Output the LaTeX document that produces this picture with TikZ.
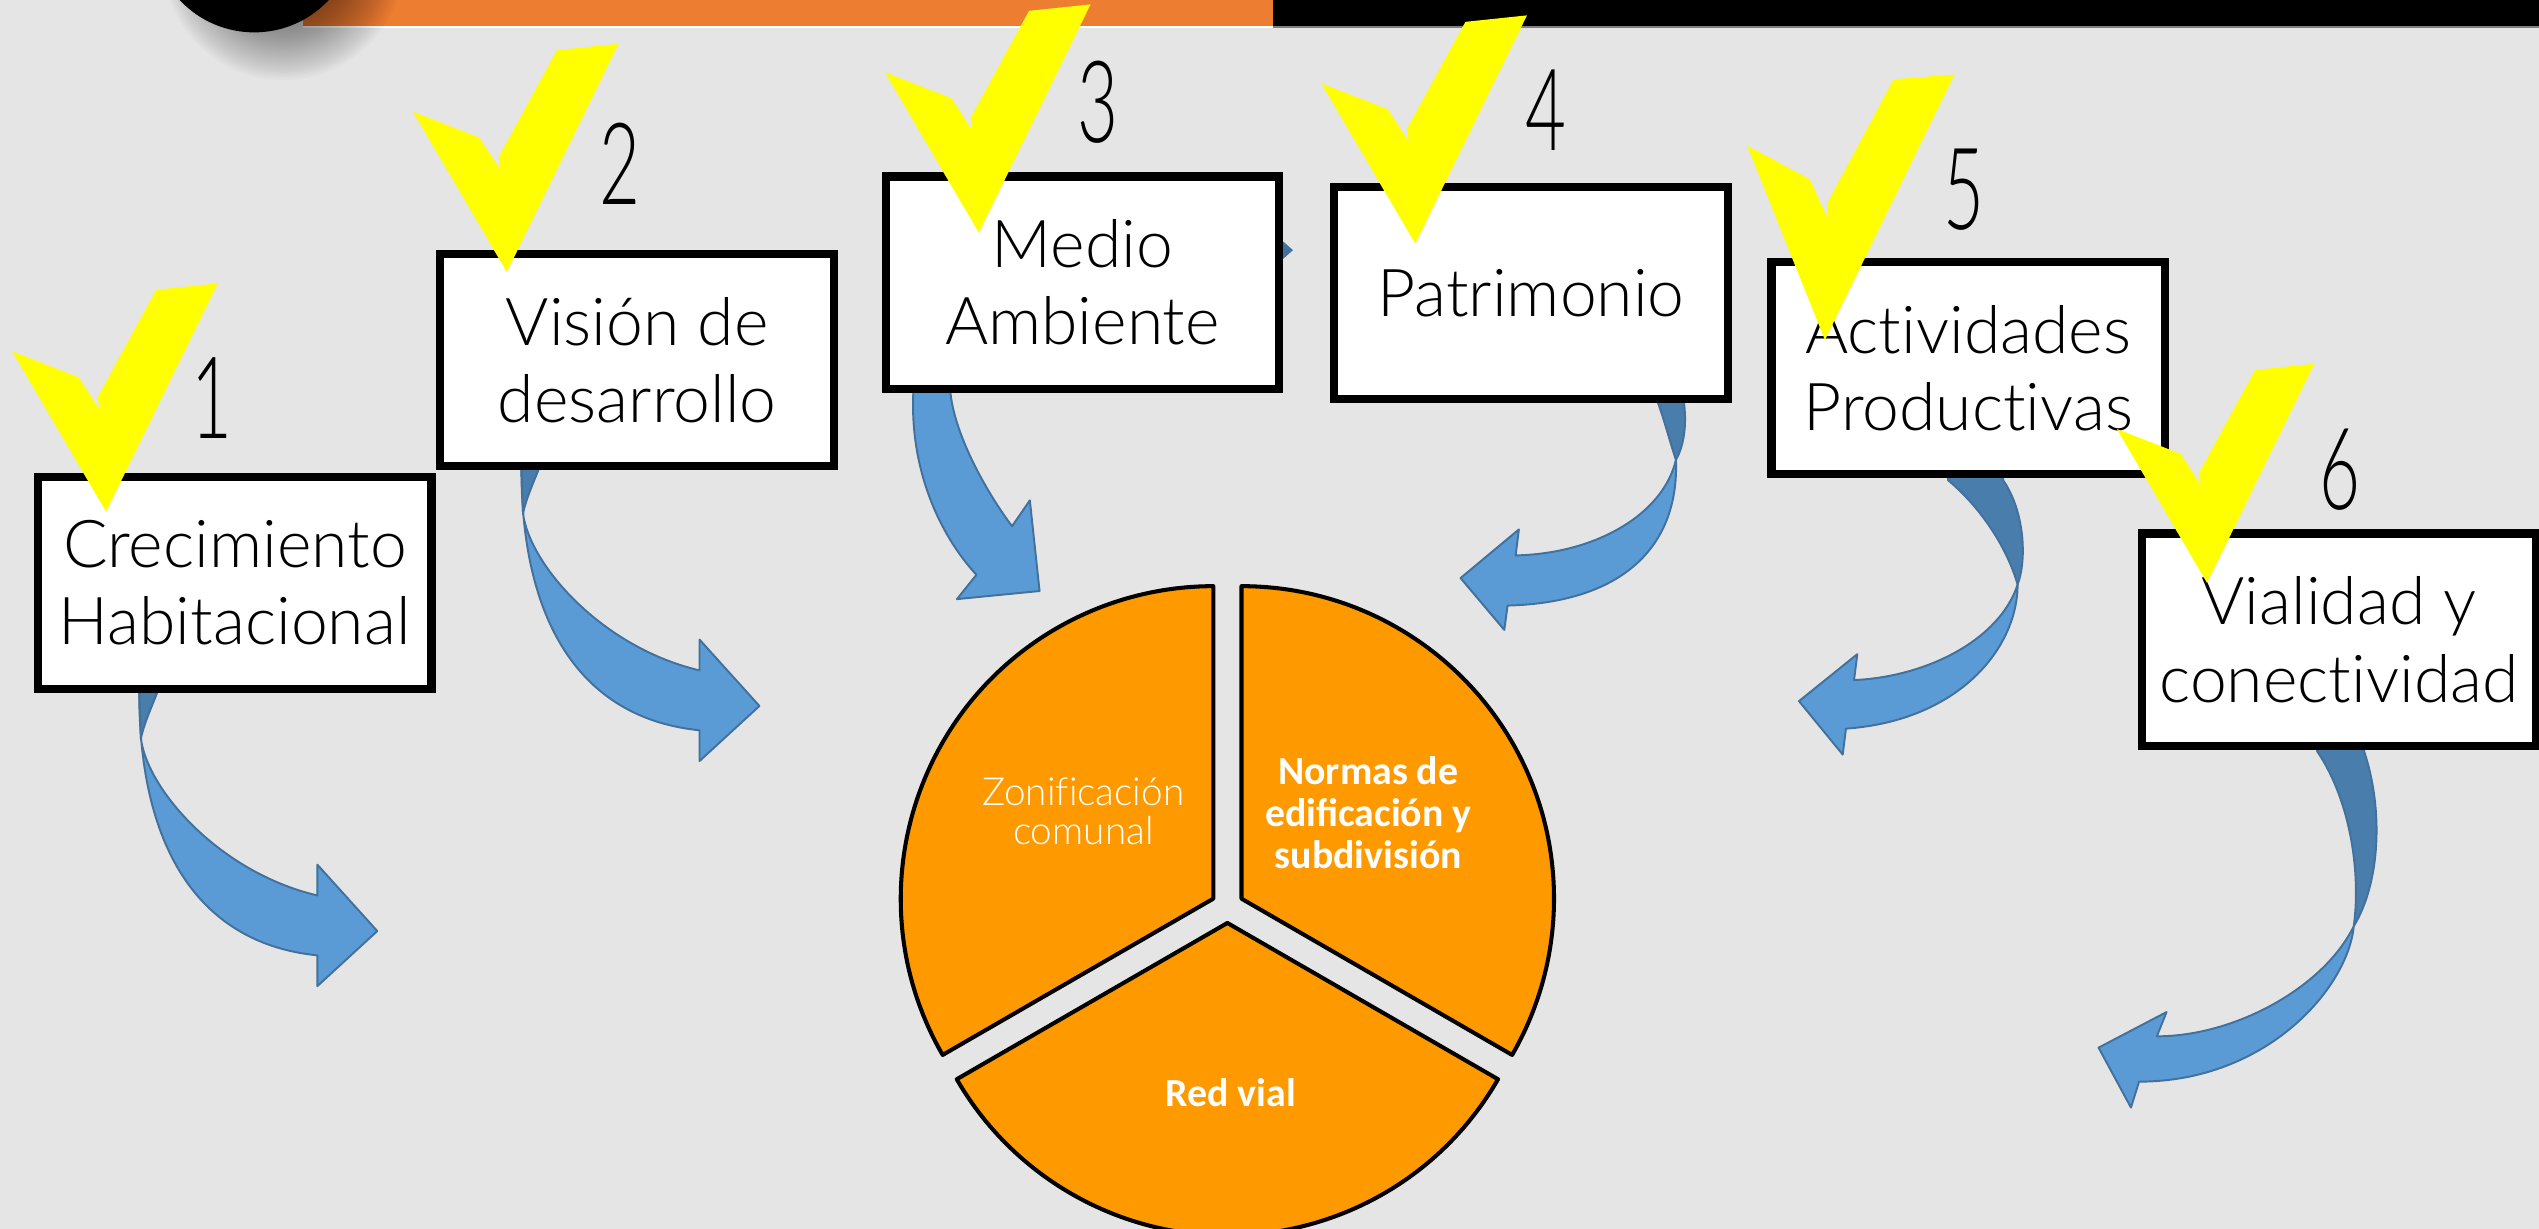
\documentclass[tikz,border=0pt]{standalone}
\usepackage{fontspec}
\IfFontExistsTF{Lato Light}{\newfontfamily\lightfont{Lato Light}[Ligatures=NoCommon]}{\newfontfamily\lightfont{Lato}[Ligatures=NoCommon]}
\newfontfamily\piefont{Carlito}
\definecolor{bg}{RGB}{229,229,229}
\definecolor{barorange}{RGB}{237,125,49}
\definecolor{pieorange}{RGB}{255,153,0}
\definecolor{arrowblue}{RGB}{91,155,213}
\definecolor{arrowedge}{RGB}{65,113,156}
\definecolor{arrowdark}{RGB}{72,125,172}
\definecolor{tickyellow}{RGB}{255,255,0}
\tikzset{
  box/.style={draw=black, line width=0.5mm, fill=white, minimum width=24.3mm,
    minimum height=13.1mm, inner sep=0pt, align=center,
    font=\lightfont\fontsize{11.6}{13.6}\selectfont},
  num/.style={inner sep=0pt, font=\lightfont\fontsize{20}{20}\selectfont},
  arrowfront/.style={fill=arrowblue, draw=arrowedge, line width=0.12mm, line join=round},
  arrowback/.style={fill=arrowdark, draw=arrowedge, line width=0.12mm, line join=round},
  piesec/.style={fill=pieorange, draw=black, line width=0.25mm, line join=round},
  pielight/.style={text=white, align=center, inner sep=0pt, font=\lightfont\fontsize{6.8}{7}\selectfont},
  piebold/.style={text=white, align=center, inner sep=0pt, font=\piefont\bfseries\fontsize{7}{7.4}\selectfont},
  yellowtick/.pic={
    \fill[tickyellow] (0,0) -- (-58,-99) -- (-17,-83) -- (-4,-63) -- (-5,-71)
      -- (31,-137) -- (69,-141) -- cycle;
  },
  bendright/.pic={
    \filldraw[arrowfront] (0,-5) -- (0,0) .. controls (0,100) and (40,155) .. (110,162)
      -- (110,181) -- (147,147) -- (110,106) -- (110,125)
      .. controls (50,111) and (5,60) .. (1,28) -- cycle;
    \filldraw[arrowback] (0,-5) -- (11,-5) -- (11,0) .. controls (7,10) and (3,19) .. (1,28) -- (0,0) -- cycle;
  }
}
\begin{document}
\begin{tikzpicture}[x=0.1mm,y=-0.1mm]
\useasboundingbox (0,0) rectangle (1568,759);
\fill[bg] (0,0) rectangle (1568,759);
% top band
\fill[barorange] (187,0) rectangle (786,16);
\fill[black] (786,0) rectangle (1568,16);
\draw[white, line width=0.1mm] (187,16.6) -- (786,16.6);
\draw[gray, line width=0.1mm] (786,16.6) -- (1568,16.6);
% shadow and black disc
\foreach \r in {40,41.5,...,75} \fill[black, opacity=0.018] (175,-25) circle[radius=\r];
\fill[black] (157,-43) circle[radius=63];

% pie chart
\filldraw[piesec] (749.3,555) -- ++(150:193) arc[start angle=150, end angle=270, radius=193] -- cycle;
\filldraw[piesec] (766.7,555) -- ++(-90:193) arc[start angle=-90, end angle=30, radius=193] -- cycle;
\filldraw[piesec] (758,570) -- ++(30:193) arc[start angle=30, end angle=150, radius=193] -- cycle;
\node[pielight] (zon) at (669,501) {Zonificación\\comunal};
\node[piebold] (nor) at (845,502) {Normas de\\edificación y\\subdivisión};
\node[piebold] (red) at (760,675) {Red vial};

% curved arrows
\pic at (86,428) {bendright};
\pic at (322,289) {bendright};
\filldraw[arrowfront] (564,238) -- (564,243) .. controls (562,290) and (580,330) .. (603,355)
  -- (591,370) -- (642,365) -- (636,309) -- (625,325)
  .. controls (610,305) and (590,270) .. (587,243) -- (587,238) -- cycle;
\filldraw[arrowfront] (1035,284) .. controls (1037,335) and (1005,372) .. (931,374)
  -- (929,389) -- (902,357) -- (938,327) -- (936,343)
  .. controls (985,342) and (1027,318) .. (1035,284) -- cycle;
\filldraw[arrowback] (1024,244) -- (1040,244) -- (1040,249) .. controls (1042,265) and (1039,277) .. (1035,284)
  .. controls (1031,272) and (1028,260) .. (1024,249) -- cycle;
\filldraw[arrowfront] (1246,361) .. controls (1246,400) and (1210,445) .. (1140,450)
  -- (1138,466) -- (1111,433) -- (1147,404) -- (1145,420)
  .. controls (1190,418) and (1235,395) .. (1246,361) -- cycle;
\filldraw[arrowback] (1203,292) -- (1237,292) -- (1237,296.5) .. controls (1250,315) and (1252,345) .. (1246,361)
  .. controls (1240,340) and (1225,315) .. (1203,296.5) -- cycle;
\filldraw[arrowfront] (1453.6,572) .. controls (1450,610) and (1400,668) .. (1321,668)
  -- (1316,684) -- (1296,647) -- (1338,625) -- (1332,640)
  .. controls (1380,640) and (1435,610) .. (1453.6,572) -- cycle;
\filldraw[arrowback] (1431,460) -- (1460,460) -- (1460,464) .. controls (1472,500) and (1470,545) .. (1453.6,572)
  .. controls (1458,540) and (1452,495) .. (1431,464) -- cycle;
\fill[arrowedge] (790,147) -- (798.5,154.5) -- (790,162) -- cycle;

% boxes
\node[box] (b1) at (145,360) {Crecimiento\\Habitacional};
\node[box] (b2) at (393.5,222.5) {Visión de\\desarrollo};
\node[box] (b3) at (668.5,174.5) {Medio\\Ambiente};
\node[box] (b4) at (945.5,181) {Patrimonio};
\node[box] (b5) at (1215.5,227.5) {Actividades\\Productivas};
\node[box] (b6) at (1444.5,395) {Vialidad y\\conectividad};

% check marks
\pic at (65.5,316) {yellowtick};
\pic at (313,168) {yellowtick};
\pic at (604.5,143.7) {yellowtick};
\pic at (874,150.5) {yellowtick};
\fill[tickyellow] (1127,210) -- (1079,90) -- (1117.7,110.8) -- (1128.7,135.1) -- (1128.4,125.6)
  -- (1169.4,49) -- (1207,46) -- cycle;
\pic[scale=0.96] at (1363,360) {yellowtick};

% numbers
\node[num] (n1) at (131,246) {\scalebox{0.62}[1]{1}};
\node[num] (n2) at (383,101) {\scalebox{0.62}[1]{2}};
\node[num] (n3) at (678,63) {\scalebox{0.62}[1]{3}};
\node[num] (n4) at (955,68) {\scalebox{0.62}[1]{4}};
\node[num] (n5) at (1213,117) {\scalebox{0.62}[1]{5}};
\node[num] (n6) at (1445,290) {\scalebox{0.62}[1]{6}};
\end{tikzpicture}
\end{document}
